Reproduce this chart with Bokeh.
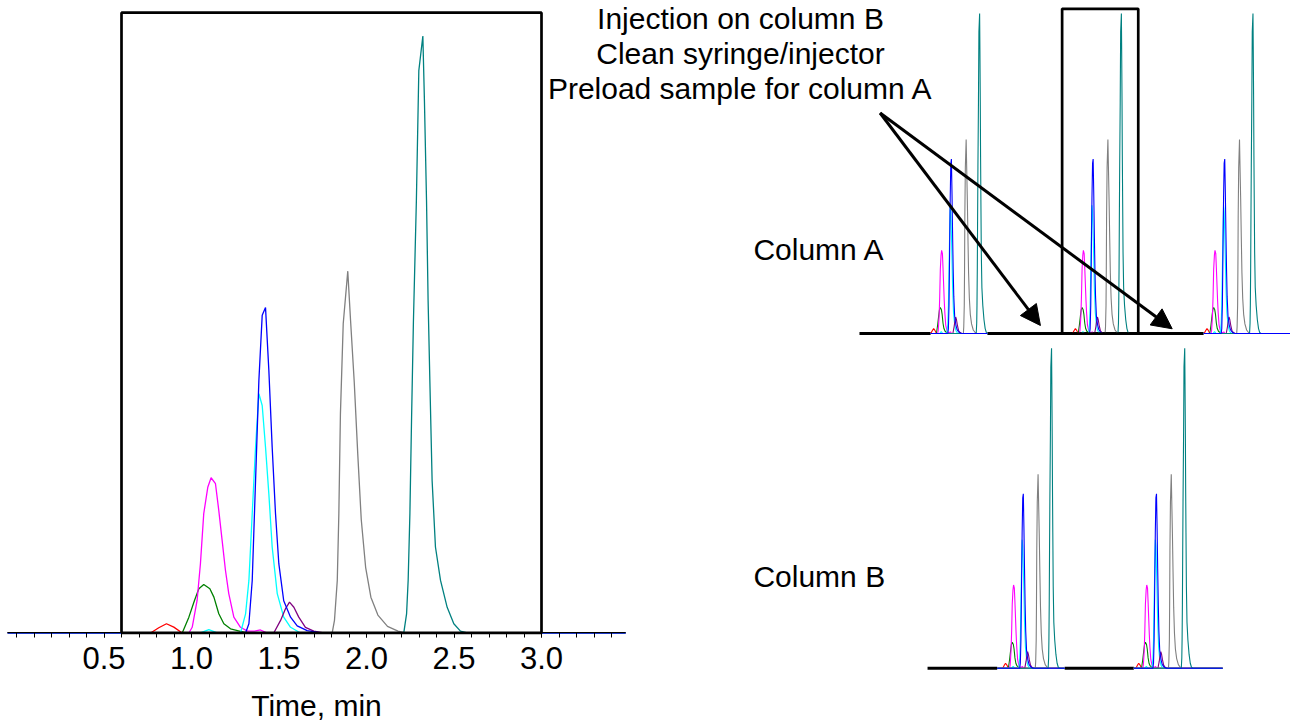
from bokeh.plotting import figure
from bokeh.models import FixedTicker, Arrow, NormalHead
from bokeh.core.properties import value
from bokeh.embed import file_html
from bokeh.resources import INLINE

# ---------------- data (time in min, relative intensity, tallest peak = 100) ----------------
red_t = [-0.05, 0.766, 0.813, 0.857, 0.899, 0.947, 3.48]
red_i = [0, 0, 0.87, 1.54, 0.98, 0, 0]

green_t = [-0.05, 0.947, 0.985, 1.017, 1.042, 1.070, 1.105, 1.128, 1.156, 1.185, 1.223, 1.280, 1.320, 3.48]
green_i = [0, 0, 2.65, 5.44, 7.40, 8.12, 7.40, 6.00, 3.21, 1.54, 0.70, 0.25, 0, 0]

magenta_t = [-0.05, 0.985, 1.004, 1.032, 1.051, 1.070, 1.093, 1.112, 1.137, 1.156, 1.175, 1.194,
             1.213, 1.242, 1.280, 1.320, 1.360, 1.394, 1.430, 3.48]
magenta_i = [0, 0, 0.95, 5.44, 11.6, 20.0, 24.4, 26.0, 25.0, 20.5, 15.5, 10.5,
             6.6, 2.65, 0.95, 0.3, 0.3, 0.5, 0, 0]

cyan_t = [-0.05, 1.051, 1.099, 1.147, 1.280, 1.309, 1.328, 1.347, 1.366, 1.385, 1.404, 1.423,
          1.442, 1.461, 1.490, 1.527, 1.566, 1.623, 3.48]
cyan_i = [0, 0, 0.56, 0, 0, 3.2, 8.8, 20.0, 31.1, 40.1, 38.1, 31.1,
          23.3, 14.4, 6.6, 2.65, 0.95, 0, 0]

blue_t = [-0.05, 1.309, 1.328, 1.347, 1.366, 1.385, 1.404, 1.423, 1.442, 1.461, 1.480, 1.499,
          1.527, 1.566, 1.604, 1.661, 1.737, 3.48]
blue_i = [0, 0, 1.54, 8.8, 25.5, 42.3, 53.2, 54.5, 44.0, 31.1, 20.0, 11.6,
          5.4, 2.65, 1.2, 0.4, 0, 0]

purple_t = [-0.05, 1.470, 1.509, 1.537, 1.560, 1.585, 1.613, 1.651, 1.699, 1.756, 3.48]
purple_i = [0, 0, 2.1, 4.05, 5.16, 4.3, 2.65, 0.95, 0.3, 0, 0]

gray_t = [-0.05, 1.804, 1.817, 1.833, 1.842, 1.851, 1.867, 1.893, 1.909, 1.930, 1.950, 1.970,
          1.995, 2.025, 2.065, 2.120, 2.180, 2.220, 3.48]
gray_i = [0, 0, 2.1, 8.8, 20.0, 36.7, 51.8, 60.6, 52.3, 42.0, 30.0, 19.0,
          11.0, 6.0, 3.0, 1.1, 0.3, 0, 0]

teal_t = [-0.05, 2.213, 2.229, 2.238, 2.248, 2.258, 2.268, 2.285, 2.299, 2.322, 2.331, 2.343,
          2.352, 2.362, 2.375, 2.394, 2.423, 2.461, 2.499, 2.537, 2.576, 3.48]
teal_i = [0, 0, 3.2, 8.8, 20.0, 36.7, 52.0, 72.4, 94.2, 100.0, 89.2, 72.4,
          55.7, 42.3, 25.5, 14.4, 8.8, 4.3, 1.54, 0.3, 0, 0]

tick_values = [0.5, 1.0, 1.5, 2.0, 2.5, 3.0]
tick_labels = ["0.5", "1.0", "1.5", "2.0", "2.5", "3.0"]
minor_tick_values = [round(0.1 * k, 1) for k in range(0, 35)]

note_lines = ["Injection on column B", "Clean syringe/injector", "Preload sample for column A"]
column_names = ["Column A", "Column B"]
axis_title = "Time, min"

# ---------------- layout / style ----------------
FONT = "Liberation Sans"
W, H = 1290, 724
PX_PER_MIN = 175.0
PX_PER_UNIT = 5.97
X_START = -16 / PX_PER_MIN
Y_END = 104.6 + 8 / PX_PER_UNIT

traces = [
    (red_t, red_i, "#ff0000"),
    (green_t, green_i, "#008000"),
    (magenta_t, magenta_i, "#ff00ff"),
    (cyan_t, cyan_i, "#00ffff"),
    (purple_t, purple_i, "#800080"),
    (gray_t, gray_i, "#808080"),
    (teal_t, teal_i, "#008080"),
    (blue_t, blue_i, "#0000ff"),
]

p = figure(width=W, height=H,
           x_range=(X_START, X_START + W / PX_PER_MIN),
           y_range=(Y_END - H / PX_PER_UNIT, Y_END),
           output_backend="svg", toolbar_location=None, y_axis_location=None,
           min_border=0, outline_line_color=None, background_fill_color="white")
p.grid.visible = False

ax = p.xaxis[0]
ax.ticker = FixedTicker(ticks=tick_values, minor_ticks=minor_tick_values)
ax.major_label_overrides = {v: s for v, s in zip(tick_values, tick_labels)}
ax.fixed_location = 0
ax.bounds = (-0.05, 3.48)
ax.axis_line_color = "black"
ax.axis_line_width = 1
ax.major_tick_in = 0
ax.major_tick_out = 5
ax.minor_tick_in = 0
ax.minor_tick_out = 5
ax.major_tick_line_color = "black"
ax.minor_tick_line_color = "black"
ax.major_label_text_font = FONT
ax.major_label_text_font_size = "31px"
ax.major_label_text_color = "black"
ax.major_label_standoff = 9
ax.axis_label = axis_title
ax.axis_label_text_font = FONT
ax.axis_label_text_font_size = "30px"
ax.axis_label_text_font_style = "normal"
ax.axis_label_text_color = "black"
ax.axis_label_standoff = 17

# ---- main chromatogram ----
for t, i, c in traces:
    p.line(t, i, line_color=c, line_width=1.3)

box_top = 103.9
p.line([0.6, 0.6, 3.0, 3.0, 0.6], [0, box_top, box_top, 0, 0], line_color="black", line_width=2.7)

# ---- schematic strips (same chromatogram, compressed) ----
MINI_SX = 0.1794
MINI_SY = 0.536
STRIP_A_Y = 50.16
STRIP_B_Y = -5.9
strip_a = [(5.087, 0.76, 2.57), (5.897, 0.75, 2.60), (6.649, 0.75, 3.54)]
strip_b = [(5.498, 0.59, 2.74), (6.259, 0.70, 3.53)]


def draw_mini(x0, w0, w1, y0):
    for t, i, c in traces:
        xs = [x0 + w0 * MINI_SX]
        ys = [y0]
        for tt, ii in zip(t, i):
            if w0 < tt < w1:
                xs.append(x0 + tt * MINI_SX)
                ys.append(y0 + ii * MINI_SY)
        xs.append(x0 + w1 * MINI_SX)
        ys.append(y0)
        p.line(xs, ys, line_color=c, line_width=1.1)


# black connecting baselines
p.line([4.817, strip_a[0][0] + strip_a[0][1] * MINI_SX], [STRIP_A_Y] * 2, line_color="black", line_width=3)
p.line([strip_a[0][0] + strip_a[0][2] * MINI_SX, strip_a[2][0] + strip_a[2][1] * MINI_SX], [STRIP_A_Y] * 2,
       line_color="black", line_width=3)
p.line([5.206, strip_b[0][0] + strip_b[0][1] * MINI_SX], [STRIP_B_Y] * 2, line_color="black", line_width=3)
p.line([strip_b[0][0] + strip_b[0][2] * MINI_SX, strip_b[1][0] + strip_b[1][1] * MINI_SX], [STRIP_B_Y] * 2,
       line_color="black", line_width=3)

for x0, w0, w1 in strip_a:
    draw_mini(x0, w0, w1, STRIP_A_Y)
for x0, w0, w1 in strip_b:
    draw_mini(x0, w0, w1, STRIP_B_Y)

# highlight box on column A
bx0, bx1, by1 = 5.975, 6.41, 104.55
p.line([bx0, bx0, bx1, bx1, bx0], [STRIP_A_Y, by1, by1, STRIP_A_Y, STRIP_A_Y], line_color="black", line_width=2.7)

# arrows
for xe, ye in [(5.851, 51.5), (6.604, 50.95)]:
    p.add_layout(Arrow(end=NormalHead(size=20, fill_color="black", line_color="black", line_width=1),
                       x_start=4.935, y_start=87.1, x_end=xe, y_end=ye,
                       line_color="black", line_width=3))

# texts
p.text(x=[4.137] * 3, y=[102.88, 97.07, 91.15], text=note_lines,
       text_font=value(FONT), text_font_size="30px", text_align="center",
       text_baseline="alphabetic", text_color="black")
p.text(x=[4.211, 4.211], y=[64.2, 9.45], text=column_names,
       text_font=value(FONT), text_font_size="30px", text_align="left",
       text_baseline="alphabetic", text_color="black")

open("out.html", "w").write(file_html(p, INLINE))
